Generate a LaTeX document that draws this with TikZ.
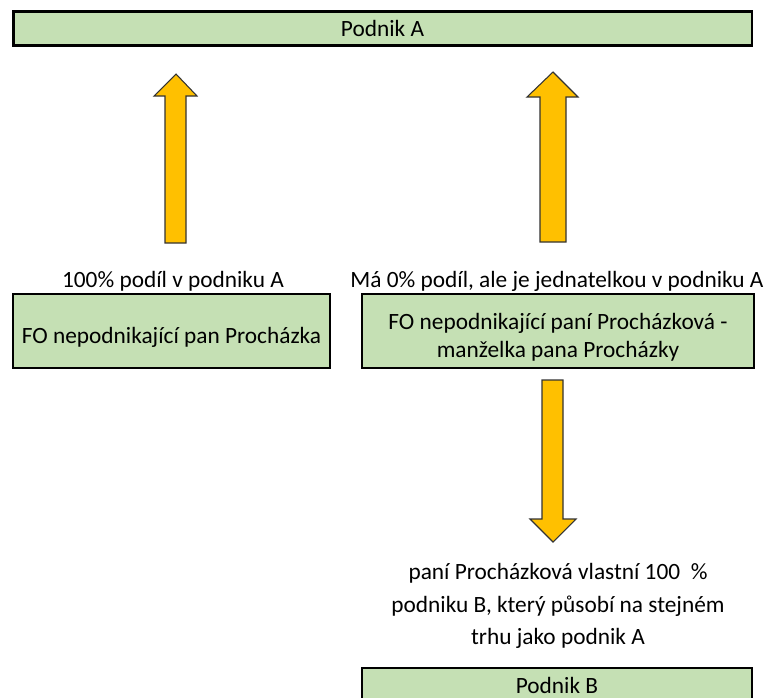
\documentclass[tikz,border=0pt]{standalone}
\usepackage{fontspec}
\setmainfont{Carlito}
\usetikzlibrary{positioning}
\definecolor{boxgreen}{HTML}{C5E0B4}
\definecolor{arrowgold}{HTML}{FFC000}

\begin{document}
\begin{tikzpicture}[x=0.75pt,y=-0.75pt,
  box/.style={draw=black,line width=2pt,fill=boxgreen,inner sep=0pt,align=center,font=\fontsize{17.5}{21}\selectfont},
  lbl/.style={inner sep=0pt,align=center,font=\fontsize{17.5}{24.5}\selectfont},
  blockarrow/.style={draw=black!80,line width=0.8pt,fill=arrowgold,line join=miter}]
\useasboundingbox (0,0) rectangle (767,697);

% boxes
\node[box,minimum width=554pt,minimum height=25.5pt] (podnikA) at (382.5,28.5) {Podnik A};
\node[box,minimum width=237.75pt,minimum height=55.5pt,text height=19.5pt,text depth=0.5pt] (pan) at (171.5,331) {FO nepodnikající pan Procházka};
\node[box,minimum width=294pt,minimum height=55.5pt,text height=40pt,text depth=0.2pt] (pani) at (558,331) {FO nepodnikající paní Procházková -\\manželka pana Procházky};
\node[box,minimum width=292.5pt,minimum height=25.5pt] (podnikB) at (557,685) {Podnik B};

% labels
\node[lbl] (panlbl) at (173,281) {100\% podíl v podniku A};
\node[lbl] (panilbl) at (557,281) {Má 0\% podíl, ale je jednatelkou v podniku A};
\node[lbl] (podnikBlbl) at (558,606) {paní Procházková vlastní 100~ \%\\podniku B, který působí na stejném\\trhu jako podnik A};

% block arrows
\draw[blockarrow] (165,243) -- (165,96) -- (154,96) -- (176,74) -- (197,96) -- (186,96) -- (186,243) -- cycle;
\draw[blockarrow] (540,242) -- (540,97) -- (527,97) -- (553,72) -- (578,97) -- (566,97) -- (566,242) -- cycle;
\draw[blockarrow] (542,380) -- (542,519) -- (530,519) -- (553,542) -- (576,519) -- (563,519) -- (563,380) -- cycle;

\end{tikzpicture}
\end{document}
